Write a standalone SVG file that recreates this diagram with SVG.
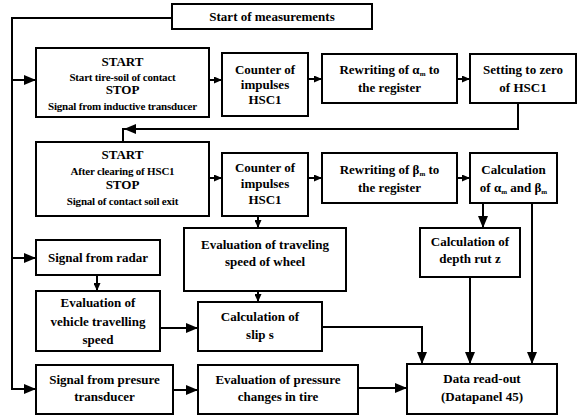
<svg xmlns="http://www.w3.org/2000/svg" width="578" height="418" viewBox="0 0 578 418">
<style>
rect{fill:#fff;stroke:#000;stroke-width:2}
text{font-weight:bold;font-size:13px;text-anchor:middle;fill:#000}
.sm{font-size:11px;letter-spacing:-0.2px}
.sub{font-size:7px}
#conn path{fill:none;stroke:#000;stroke-width:2}
</style>
<defs>
<marker id="a" markerUnits="userSpaceOnUse" markerWidth="12" markerHeight="10" refX="12" refY="5" orient="auto"><path d="M0,0L12,5L0,10z" fill="#000"/></marker>
<marker id="s" markerUnits="userSpaceOnUse" markerWidth="8" markerHeight="7" refX="8" refY="3.5" orient="auto"><path d="M0,0L8,3.5L0,7z" fill="#000"/></marker>
</defs>
<rect x="0" y="0" width="578" height="418" style="stroke:none"/>
<g id="conn">
<path d="M172,18H12V389H36" marker-end="url(#a)"/>
<path d="M12,80H36" marker-end="url(#a)"/>
<path d="M12,258H36" marker-end="url(#a)"/>
<path d="M209,80H222" marker-end="url(#s)"/>
<path d="M308,79H322" marker-end="url(#s)"/>
<path d="M457,79H470" marker-end="url(#s)"/>
<path d="M518,103V129H124" marker-end="url(#a)"/>
<path d="M123,128V142"/>
<path d="M209,178H222" marker-end="url(#s)"/>
<path d="M308,178H322" marker-end="url(#s)"/>
<path d="M457,178H470" marker-end="url(#s)"/>
<path d="M483,203V228" marker-end="url(#a)"/>
<path d="M532,203V364" marker-end="url(#a)"/>
<path d="M470,277V364" marker-end="url(#a)"/>
<path d="M258,216V228" marker-end="url(#s)"/>
<path d="M258,291V302" marker-end="url(#s)"/>
<path d="M97,275V291" marker-end="url(#s)"/>
<path d="M160,328H198" marker-end="url(#a)"/>
<path d="M322,327H422V364" marker-end="url(#a)"/>
<path d="M173,390H198" marker-end="url(#a)"/>
<path d="M358,388H407" marker-end="url(#a)"/>
</g>
<g font-family="Liberation Serif, DejaVu Serif, serif">
<g id="start"><rect x="172" y="4" width="200" height="25"/><text x="272" y="21">Start of measurements</text></g>
<g id="box1"><rect x="36" y="48" width="173" height="69"/>
<text x="122.5" y="66">START</text><text class="sm" x="122.5" y="81">Start tire-soil of contact</text>
<text x="122.5" y="94">STOP</text><text class="sm" x="122.5" y="110">Signal  from inductive transducer</text></g>
<g id="counter1"><rect x="222" y="53" width="86" height="63"/>
<text x="265" y="74">Counter of</text><text x="265" y="89">impulses</text><text x="265" y="104">HSC1</text></g>
<g id="rewA"><rect x="322" y="54" width="135" height="49"/>
<text x="389.5" y="74">Rewriting of α<tspan class="sub" dy="2">m</tspan><tspan dy="-2"> to</tspan></text><text x="389.5" y="92">the register</text></g>
<g id="zero"><rect x="470" y="54" width="106" height="49"/>
<text x="523" y="74">Setting to zero</text><text x="523" y="92">of HSC1</text></g>
<g id="box2"><rect x="36" y="142" width="173" height="74"/>
<text x="122.5" y="159">START</text><text class="sm" x="122.5" y="175">After clearing of HSC1</text>
<text x="122.5" y="189">STOP</text><text class="sm" x="122.5" y="205">Signal of contact soil exit</text></g>
<g id="counter2"><rect x="222" y="153" width="86" height="63"/>
<text x="265" y="172">Counter of</text><text x="265" y="188">impulses</text><text x="265" y="204">HSC1</text></g>
<g id="rewB"><rect x="322" y="153" width="135" height="50"/>
<text x="389.5" y="174">Rewriting of  β<tspan class="sub" dy="2">m</tspan><tspan dy="-2"> to</tspan></text><text x="389.5" y="192">the register</text></g>
<g id="calcAB"><rect x="470" y="153" width="87" height="50"/>
<text x="513.5" y="174">Calculation</text><text x="513.5" y="192">of α<tspan class="sub" dy="2">m</tspan><tspan dy="-2"> and β</tspan><tspan class="sub" dy="2">m</tspan></text></g>
<g id="depth"><rect x="420" y="228" width="100" height="49"/>
<text x="470" y="246">Calculation of</text><text x="470" y="263">depth rut z</text></g>
<g id="evalWheel"><rect x="184" y="228" width="162" height="63"/>
<text x="265" y="249">Evaluation of traveling</text><text x="265" y="266">speed of wheel</text></g>
<g id="radar"><rect x="36" y="240" width="124" height="35"/>
<text x="98" y="262">Signal from radar</text></g>
<g id="evalVeh"><rect x="36" y="291" width="124" height="60"/>
<text x="98" y="307">Evaluation of</text><text x="98" y="326">vehicle travelling</text><text x="98" y="344">speed</text></g>
<g id="slip"><rect x="198" y="302" width="124" height="49"/>
<text x="260" y="321">Calculation of</text><text x="260" y="339">slip s</text></g>
<g id="pressure"><rect x="36" y="365" width="137" height="49"/>
<text x="104.5" y="384">Signal from presure</text><text x="104.5" y="401">transducer</text></g>
<g id="evalPress"><rect x="198" y="365" width="160" height="49"/>
<text x="278" y="384">Evaluation of pressure</text><text x="278" y="401">changes in tire</text></g>
<g id="data"><rect x="407" y="364" width="150" height="50"/>
<text x="482" y="383">Data read-out</text><text x="482" y="401">(Datapanel 45)</text></g>
</g>
</svg>
